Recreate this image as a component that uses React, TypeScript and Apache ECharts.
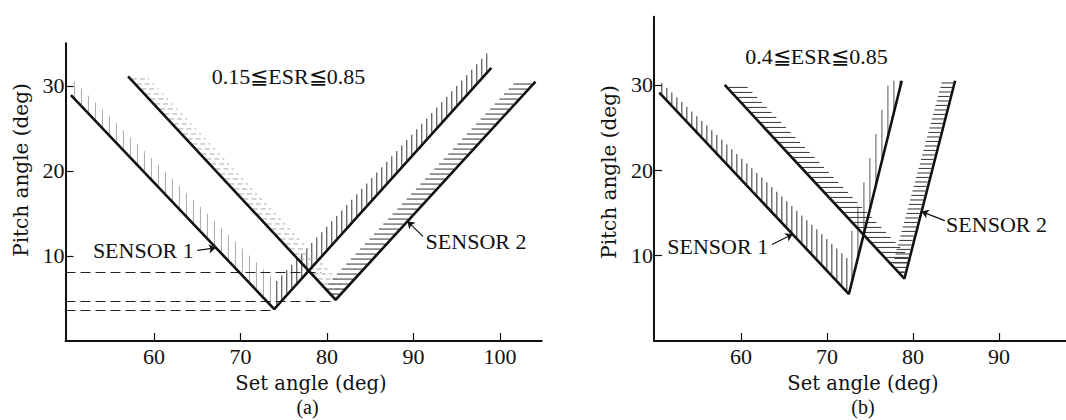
import React, { useEffect, useRef } from "react";
import * as echarts from "echarts";

// ---------- data ----------
// Panel (a): 0.15 ≦ ESR ≦ 0.85   [set angle, pitch angle]
const aSensor1: number[][] = [[50.4, 28.9], [73.9, 3.75], [99.0, 32.1]];
const aSensor2: number[][] = [[57.0, 31.1], [81.0, 4.85], [104.1, 30.5]];
const aGuideLevels: number[] = [8.1, 4.65, 3.6];
const aGuideEnds: number[] = [79.3, 81.0, 73.9];
// Panel (b): 0.4 ≦ ESR ≦ 0.85
const bSensor1: number[][] = [[50.5, 29.1], [72.55, 5.5], [78.7, 30.5]];
const bSensor2: number[][] = [[58.1, 30.0], [79.0, 7.3], [84.9, 30.5]];

const xTicksA: number[] = [60, 70, 80, 90, 100];
const xTicksB: number[] = [60, 70, 80, 90];
const yTicks: number[] = [10, 20, 30];

const titleA = "0.15≦ESR≦0.85";
const titleB = "0.4≦ESR≦0.85";
const xName = "Set angle (deg)";
const yName = "Pitch angle (deg)";
const sensorNames = ["SENSOR 1", "SENSOR 2"];

// arrows: tails and tips in data units
const aArrows: number[][] = [[65.0, 10.65], [91.1, 12.3]];
const aArrowTips: number[][] = [[67.15, 10.95], [89.3, 14.07]];
const bArrows: number[][] = [[63.6, 11.3], [83.7, 14.1]];
const bArrowTips: number[][] = [[66.0, 12.51], [81.0, 15.16]];

// ---------- hatch styles (decoration) ----------
type Hatch = { kind: "v" | "h"; dir: number; len: number[]; gap: number; color: string; w: number; cap?: boolean; dash?: number[]; partner: number };
const aHatch: Hatch[] = [
  { kind: "v", dir: 1, len: [2.0, 3.4], gap: 7, color: "#aaaaaa", w: 1, partner: 1 },
  { kind: "v", dir: 1, len: [3.0, 2.3], gap: 5, color: "#555", w: 1.2, partner: 0 },
  { kind: "h", dir: 1, len: [2.2, 2.4], gap: 5, color: "#a8a8a8", w: 1, dash: [5, 3], partner: 3 },
  { kind: "h", dir: -1, len: [2.6, 2.3], gap: 5, color: "#555", w: 1.2, partner: 2 },
];
const bHatch: Hatch[] = [
  { kind: "v", dir: 1, len: [1.4, 4.0], gap: 5, color: "#444", w: 1.1, partner: 1 },
  { kind: "v", dir: 1, len: [6.0, 6.0], gap: 6, color: "#666", w: 1.1, cap: true, partner: 0 },
  { kind: "h", dir: 1, len: [2.4, 3.0], gap: 5, color: "#444", w: 1.1, partner: 3 },
  { kind: "h", dir: -1, len: [1.8, 1.5], gap: 4.5, color: "#444", w: 1.1, partner: 2 },
];

const arms = (s1: number[][], s2: number[][]) => [
  [s1[0][0], s1[0][1], s1[1][0], s1[1][1]],
  [s1[1][0], s1[1][1], s1[2][0], s1[2][1]],
  [s2[0][0], s2[0][1], s2[1][0], s2[1][1]],
  [s2[1][0], s2[1][1], s2[2][0], s2[2][1]],
];

const makeRender = (cfgs: Hatch[], armData: number[][]) => (params: any, api: any) => {
  const c = cfgs[params.dataIndex];
  const p1 = api.coord([api.value(0), api.value(1)]);
  const p2 = api.coord([api.value(2), api.value(3)]);
  const o = armData[c.partner];
  const q1 = api.coord([o[0], o[1]]);
  const q2 = api.coord([o[2], o[3]]);
  const children: any[] = [];
  const topPx = Math.min(p1[1], p2[1]);
  const style: any = { stroke: c.color, lineWidth: c.w };
  if (c.dash) style.lineDash = c.dash;
  if (c.kind === "v") {
    const unit = api.size([0, 1])[1];
    const xa = Math.min(p1[0], p2[0]);
    const xb = Math.max(p1[0], p2[0]);
    for (let px = xa + c.gap / 2; px <= xb; px += c.gap) {
      const t = (px - p1[0]) / (p2[0] - p1[0]);
      const py = p1[1] + t * (p2[1] - p1[1]);
      let y2 = py - (c.len[0] + t * (c.len[1] - c.len[0])) * unit;
      if (c.cap) y2 = Math.max(y2, topPx);
      children.push({ type: "line", shape: { x1: px, y1: py - 1.5, x2: px, y2 }, style });
    }
  } else {
    const unit = api.size([1, 0])[0];
    const ya = Math.min(p1[1], p2[1]);
    const yb = Math.max(p1[1], p2[1]);
    for (let py = ya + c.gap / 2; py <= yb; py += c.gap) {
      const t = (py - p1[1]) / (p2[1] - p1[1]);
      const px = p1[0] + t * (p2[0] - p1[0]);
      let x2 = px + c.dir * (c.len[0] + t * (c.len[1] - c.len[0])) * unit;
      // keep hatch inside the V: stop at the partner arm
      const s = (py - q1[1]) / (q2[1] - q1[1]);
      if (s >= 0 && s <= 1) {
        const qx = q1[0] + s * (q2[0] - q1[0]);
        if (c.dir > 0) x2 = Math.min(x2, qx - 1.5);
        else x2 = Math.max(x2, qx + 1.5);
      }
      if ((x2 - px) * c.dir > 2) {
        children.push({ type: "line", shape: { x1: px + c.dir * 1.5, y1: py, x2, y2: py }, style });
      }
    }
  }
  return { type: "group", children };
};

const SERIF = "'Liberation Serif', 'Times New Roman', serif";
const NAME_FONT = "'DejaVu Serif', serif";
const INK = "#111";

function xAxisFor(grid: number, min: number, max: number, ticks: number[]) {
  return {
    type: "value", gridIndex: grid, min, max,
    splitLine: { show: false },
    axisLine: { show: true, lineStyle: { color: INK, width: 2 } },
    axisTick: { show: true, inside: true, length: 8, customValues: ticks, lineStyle: { color: INK, width: 1.2 } },
    axisLabel: { show: true, customValues: ticks, margin: 4, fontFamily: SERIF, fontSize: 22, color: INK },
  };
}
function yAxisFor(grid: number, max: number) {
  return {
    type: "value", gridIndex: grid, min: 0, max,
    splitLine: { show: false },
    axisLine: { show: true, lineStyle: { color: INK, width: 2 } },
    axisTick: { show: true, inside: true, length: 8, customValues: yTicks, lineStyle: { color: INK, width: 1.2 } },
    axisLabel: { show: true, customValues: yTicks, margin: 1, fontFamily: SERIF, fontSize: 22, color: INK },
  };
}

function vLine(name: string, data: number[][], gi: number) {
  return {
    type: "line", name, xAxisIndex: gi, yAxisIndex: gi, data,
    symbol: "none", lineStyle: { color: INK, width: 2.6 }, silent: true, z: 5,
  };
}

function text(t: string, x: number, y: number, size: number, font = SERIF, rotation = 0) {
  return {
    type: "text", x, y, rotation,
    style: { text: t, fontFamily: font, fontSize: size, fill: INK, align: "center", verticalAlign: "middle" },
  };
}

export default function App() {
  const ref = useRef<HTMLDivElement>(null);
  useEffect(() => {
    if (!ref.current) return;
    const chart = echarts.init(ref.current, undefined, { renderer: "svg" });
    const arrowSeries = (gi: number, tails: number[][], tips: number[][]) => ({
      type: "lines", coordinateSystem: "cartesian2d", xAxisIndex: gi, yAxisIndex: gi,
      symbol: ["none", "arrow"], symbolSize: 7, silent: true,
      lineStyle: { color: INK, width: 1.2, opacity: 1 },
      data: tails.map((t, i) => ({ coords: [t, tips[i]] })),
      z: 6,
    });
    const armsA = arms(aSensor1, aSensor2);
    const armsB = arms(bSensor1, bSensor2);
    chart.setOption({
      animation: false,
      backgroundColor: "#ffffff",
      grid: [
        { left: 65.5, top: 43.3, width: 476.2, height: 297.7, outerBoundsMode: "none" },
        { left: 654, top: 16.7, width: 412, height: 324.3, outerBoundsMode: "none" },
      ],
      xAxis: [xAxisFor(0, 49.77, 104.82, xTicksA), xAxisFor(1, 49.88, 97.8, xTicksB)],
      yAxis: [yAxisFor(0, 35), yAxisFor(1, 38)],
      series: [
        {
          type: "custom", xAxisIndex: 0, yAxisIndex: 0, renderItem: makeRender(aHatch, armsA),
          data: armsA, encode: { x: [0, 2], y: [1, 3] }, silent: true, z: 3,
        },
        {
          type: "custom", xAxisIndex: 1, yAxisIndex: 1, renderItem: makeRender(bHatch, armsB),
          data: armsB, encode: { x: [0, 2], y: [1, 3] }, silent: true, z: 3,
        },
        vLine("a-" + sensorNames[0], aSensor1, 0),
        vLine("a-" + sensorNames[1], aSensor2, 0),
        vLine("b-" + sensorNames[0], bSensor1, 1),
        vLine("b-" + sensorNames[1], bSensor2, 1),
        {
          type: "lines", coordinateSystem: "cartesian2d", xAxisIndex: 0, yAxisIndex: 0, silent: true,
          lineStyle: { color: "#222", width: 1.1, type: [10, 5], opacity: 1 },
          data: aGuideLevels.map((lv, i) => ({ coords: [[49.77, lv], [aGuideEnds[i], lv]] })),
          z: 4,
        },
        arrowSeries(0, aArrows, aArrowTips),
        arrowSeries(1, bArrows, bArrowTips),
      ],
      graphic: [
        text(titleA, 288.5, 76, 22),
        text(titleB, 816.5, 56, 22),
        text(sensorNames[0], 143.3, 250.7, 22),
        text(sensorNames[1], 476, 241.7, 22),
        text(sensorNames[0], 717.7, 246, 22),
        text(sensorNames[1], 996.5, 224, 22),
        text(yName, 21, 170, 20, NAME_FONT, Math.PI / 2),
        text(yName, 609, 172, 20, NAME_FONT, Math.PI / 2),
        text(xName, 311, 383, 19.5, NAME_FONT),
        text(xName, 863, 383, 19.5, NAME_FONT),
        text("(a)", 307.5, 407, 20),
        text("(b)", 863, 407, 20),
      ],
    });
    return () => chart.dispose();
  }, []);
  return <div ref={ref} style={{ position: "absolute", left: 0, top: 0, width: 1066, height: 420 }} />;
}
